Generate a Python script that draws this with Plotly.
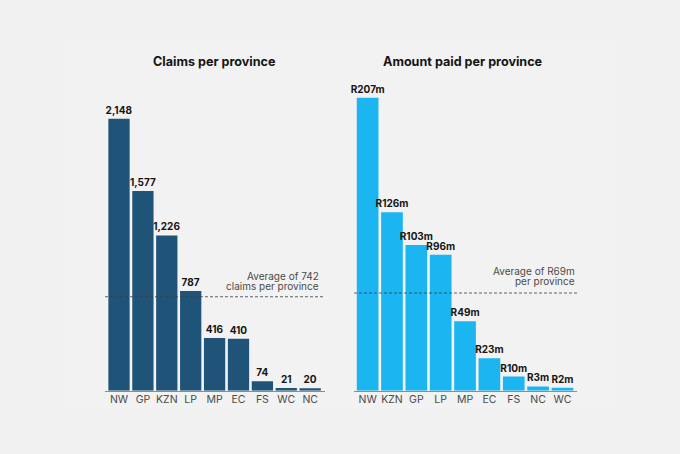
import plotly.graph_objects as go

W, H = 680, 454

claims_provinces = ["NW", "GP", "KZN", "LP", "MP", "EC", "FS", "WC", "NC"]
claims_values = [2148, 1577, 1226, 787, 416, 410, 74, 21, 20]
claims_labels = ["2,148", "1,577", "1,226", "787", "416", "410", "74", "21", "20"]
claims_avg = 742

paid_provinces = ["NW", "KZN", "GP", "LP", "MP", "EC", "FS", "NC", "WC"]
paid_values = [207, 126, 103, 96, 49, 23, 10, 3, 2]
paid_labels = ["R207m", "R126m", "R103m", "R96m", "R49m", "R23m", "R10m", "R3m", "R2m"]
paid_avg = 69

FONT = "Inter"
BG = "#f1f1f1"
PANEL = "#f2f2f2"
INK = "#151515"
GREY = "#4a4a4a"

BASE_Y = 390.7
TOP_Y = 30


def px(x):
    return x / W


def py(y):
    return 1 - y / H


fig = go.Figure()

# left panel
fig.add_trace(
    go.Bar(
        x=claims_provinces,
        y=claims_values,
        text=claims_labels,
        marker=dict(color="#1f5378", line=dict(width=0)),
        width=0.89,
        xaxis="x",
        yaxis="y",
    )
)
# right panel
fig.add_trace(
    go.Bar(
        x=paid_provinces,
        y=paid_values,
        text=paid_labels,
        marker=dict(color="#1bb6f2", line=dict(width=0)),
        width=0.89,
        xaxis="x2",
        yaxis="y2",
    )
)
fig.update_traces(
    textposition="outside",
    constraintext="none",
    cliponaxis=False,
    textfont=dict(family=FONT, size=10, color=INK, weight=700),
    hoverinfo="skip",
)

# pixels per unit: 272px for 2148, 293px for 207
claims_top = (BASE_Y - TOP_Y) / (272 / 2148)
paid_top = (BASE_Y - TOP_Y) / (293 / 207)

axis_x = dict(
    showgrid=False,
    zeroline=False,
    showline=True,
    linecolor="#8c8c8c",
    linewidth=1,
    ticks="",
    ticklabelstandoff=-1,
    tickfont=dict(family=FONT, size=10.5, color=GREY),
    type="category",
    fixedrange=True,
)
axis_y = dict(visible=False, showgrid=False, zeroline=False, fixedrange=True)

fig.update_layout(
    width=W,
    height=H,
    autosize=False,
    showlegend=False,
    margin=dict(l=0, r=0, t=0, b=0),
    paper_bgcolor=BG,
    plot_bgcolor="rgba(0,0,0,0)",
    bargap=0.11,
    xaxis=dict(axis_x, domain=[px(105), px(325)], range=[-0.586, 8.62], anchor="y"),
    yaxis=dict(axis_y, domain=[py(BASE_Y), py(TOP_Y)], range=[0, claims_top], anchor="x"),
    xaxis2=dict(axis_x, domain=[px(354), px(577.3)], range=[-0.56, 8.61], anchor="y2"),
    yaxis2=dict(axis_y, domain=[py(BASE_Y), py(TOP_Y)], range=[0, paid_top], anchor="x2"),
)

# faint lighter card behind the charts
fig.add_shape(
    type="rect",
    xref="paper",
    yref="paper",
    x0=px(70),
    x1=px(611),
    y0=py(408),
    y1=py(45),
    fillcolor=PANEL,
    line=dict(width=0),
    layer="below",
)

# average lines
for xref, yref, avg in [("x domain", "y", claims_avg), ("x2 domain", "y2", paid_avg)]:
    fig.add_shape(
        type="line",
        xref=xref,
        yref=yref,
        x0=0,
        x1=1,
        y0=avg,
        y1=avg,
        line=dict(color="#33404a", width=0.8, dash="3px,2px"),
        layer="above",
    )

# panel titles and average notes (one annotation per line, the note leading is tight)
notes = [
    (214, 62, "Claims per province", 12.6, 700, INK, "center"),
    (463, 62, "Amount paid per province", 12.6, 700, INK, "center"),
    (320.5, 276, "Average of 742", 10, 400, GREY, "right"),
    (320.5, 286, "claims per province", 10, 400, GREY, "right"),
    (576.5, 271, "Average of R69m", 10, 400, GREY, "right"),
    (576.5, 281, "per province", 10, 400, GREY, "right"),
]
for x, y, text, size, weight, color, align in notes:
    fig.add_annotation(
        x=px(x),
        y=py(y),
        xref="paper",
        yref="paper",
        text=text,
        showarrow=False,
        xanchor=align,
        yanchor="middle",
        align=align,
        font=dict(family=FONT, size=size, color=color, weight=weight),
    )

# drop the page margin so the figure sits flush with the window
fig.write_html(
    "out.html",
    config=dict(displayModeBar=False),
    post_script="document.body.style.margin='0';document.body.style.background='#f1f1f1';",
)
